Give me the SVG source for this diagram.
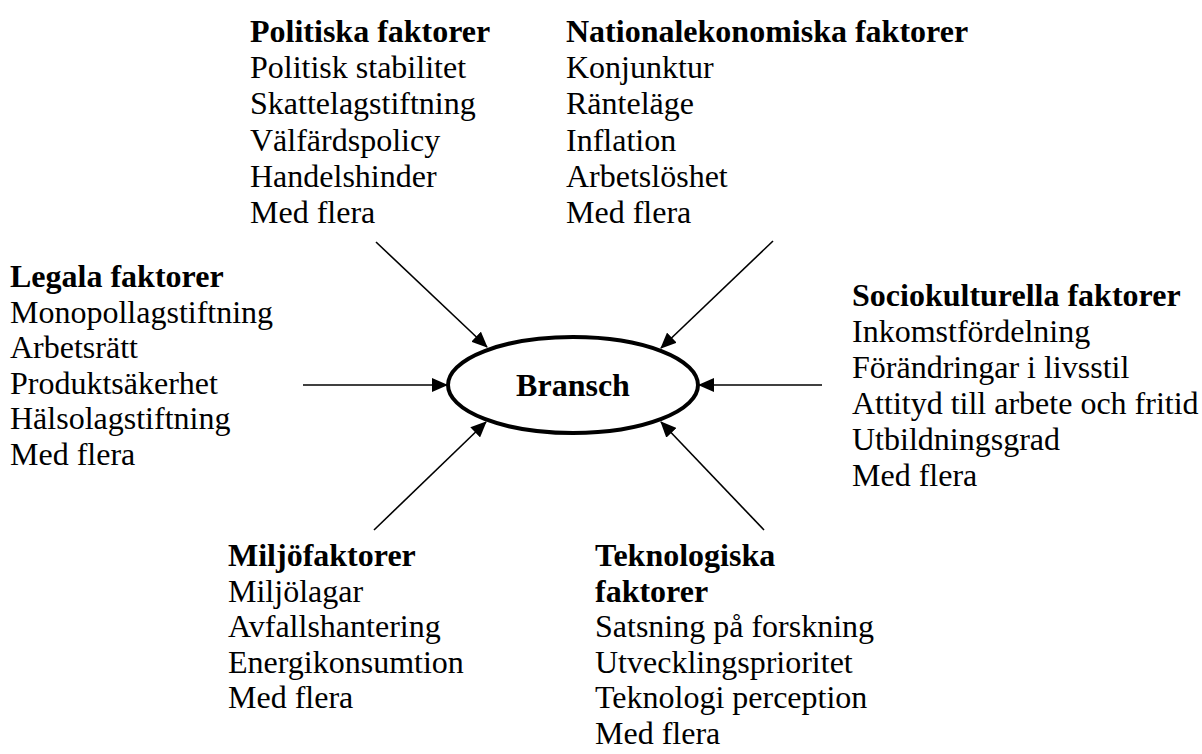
<svg xmlns="http://www.w3.org/2000/svg" width="1202" height="754" viewBox="0 0 1202 754">
  <style>
    text { font-family: "Liberation Serif", "Times New Roman", serif; font-size: 32px; fill: #000; }
    .title { font-weight: bold; }
    .conn { stroke: #000; stroke-width: 1.6; fill: none; marker-end: url(#arrow); }
  </style>
  <defs>
    <marker id="arrow" viewBox="0 0 16 14" refX="15" refY="7" markerWidth="16" markerHeight="14" markerUnits="userSpaceOnUse" orient="auto">
      <path d="M0,0 L16,7 L0,14 Z" fill="#000" />
    </marker>
  </defs>
  <rect width="1202" height="754" fill="#fff" />

  <!-- connectors pointing at the centre node -->
  <g id="connectors">
    <line class="conn" x1="376" y1="242" x2="487" y2="347" />
    <line class="conn" x1="773" y1="241" x2="661" y2="348" />
    <line class="conn" x1="303" y1="385" x2="447" y2="385" />
    <line class="conn" x1="822" y1="385" x2="699" y2="385" />
    <line class="conn" x1="374" y1="530" x2="486" y2="422" />
    <line class="conn" x1="764" y1="530" x2="661" y2="422" />
  </g>

  <g id="bransch">
    <ellipse cx="573" cy="385" rx="125" ry="48" fill="#fff" stroke="#000" stroke-width="4" />
    <text class="title" x="573" y="396" text-anchor="middle">Bransch</text>
  </g>

  <g id="politiska">
    <text class="title" x="250" y="42">Politiska faktorer</text>
    <text x="250" y="78">Politisk stabilitet</text>
    <text x="250" y="114">Skattelagstiftning</text>
    <text x="250" y="151">Välfärdspolicy</text>
    <text x="250" y="187">Handelshinder</text>
    <text x="250" y="223">Med flera</text>
  </g>

  <g id="nationalekonomiska">
    <text class="title" x="566" y="42">Nationalekonomiska faktorer</text>
    <text x="566" y="78">Konjunktur</text>
    <text x="566" y="114">Ränteläge</text>
    <text x="566" y="151">Inflation</text>
    <text x="566" y="187">Arbetslöshet</text>
    <text x="566" y="223">Med flera</text>
  </g>

  <g id="legala">
    <text class="title" x="10" y="287">Legala faktorer</text>
    <text x="10" y="322.5">Monopollagstiftning</text>
    <text x="10" y="358">Arbetsrätt</text>
    <text x="10" y="393.5">Produktsäkerhet</text>
    <text x="10" y="429">Hälsolagstiftning</text>
    <text x="10" y="464.5">Med flera</text>
  </g>

  <g id="sociokulturella">
    <text class="title" x="852" y="306">Sociokulturella faktorer</text>
    <text x="852" y="342">Inkomstfördelning</text>
    <text x="852" y="378">Förändringar i livsstil</text>
    <text x="852" y="414">Attityd till arbete och fritid</text>
    <text x="852" y="450">Utbildningsgrad</text>
    <text x="852" y="486">Med flera</text>
  </g>

  <g id="miljo">
    <text class="title" x="228" y="566">Miljöfaktorer</text>
    <text x="228" y="601.5">Miljölagar</text>
    <text x="228" y="637">Avfallshantering</text>
    <text x="228" y="672.5">Energikonsumtion</text>
    <text x="228" y="708">Med flera</text>
  </g>

  <g id="teknologiska">
    <text class="title" x="595" y="566">Teknologiska</text>
    <text class="title" x="595" y="601.5">faktorer</text>
    <text x="595" y="637">Satsning på forskning</text>
    <text x="595" y="672.5">Utvecklingsprioritet</text>
    <text x="595" y="708">Teknologi perception</text>
    <text x="595" y="743.5">Med flera</text>
  </g>
</svg>
